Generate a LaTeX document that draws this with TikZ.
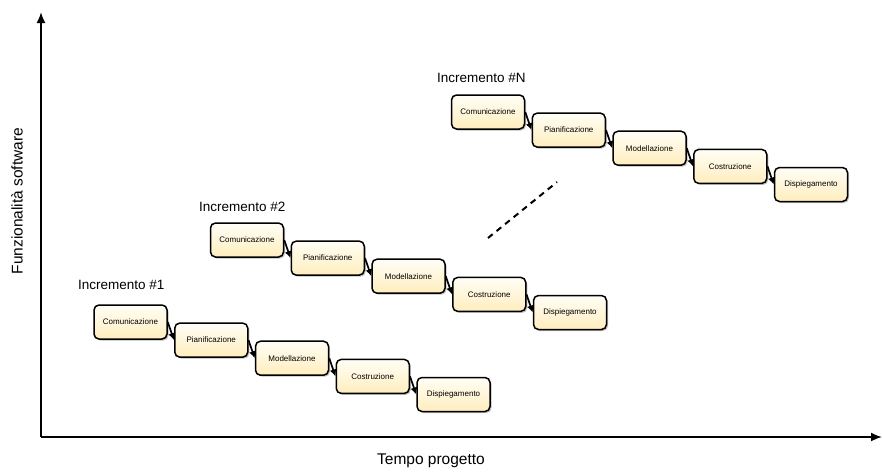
\documentclass[tikz,border=0pt]{standalone}
\usepackage{fontspec}
\setmainfont{Liberation Sans}
\usepackage{xcolor}
\usetikzlibrary{arrows.meta}
\usetikzlibrary{shadows}

\definecolor{fasetop}{HTML}{FFFEF6}
\definecolor{fasebot}{HTML}{FFEDBE}

\tikzset{
  fase/.style={draw=black, line width=1.5pt, rounded corners=5pt,
    top color=fasetop, bottom color=fasebot,
    minimum width=73pt, minimum height=34pt, inner sep=0pt,
    font=\fontsize{8}{9}\selectfont,
    drop shadow={shadow xshift=1.5pt, shadow yshift=-1.5pt, opacity=0.25, fill=black}},
  passo/.style={line width=1.7pt, -{Latex[length=7pt,width=7pt]}},
  titolo/.style={anchor=west, font=\fontsize{13.5}{15}\selectfont},
  asse/.style={line width=1.8pt, -{Latex[length=11pt,width=9pt]}}
}

\begin{document}
\begin{tikzpicture}[x=1pt,y=-1pt]
\useasboundingbox (0,0) rectangle (882,472);
		% assi
		\coordinate (O) at (41,437);
		\coordinate (Y) at (41,12);
		\coordinate (X) at (882,437);
		\draw[asse] (O) -- (Y);
		\draw[asse] (O) -- (X);
		\node[rotate=90, font=\fontsize{15.5}{17}\selectfont] (ylab) at (17,201) {Funzionalità software};
		\node[font=\fontsize{15.5}{17}\selectfont] (xlab) at (431,461) {Tempo progetto};
\begin{scope}[shift={(130.5,322)}]
		\node[titolo] (T1) at (-56,-37) {Incremento \#1};
		\node[fase] (C1) at (0,0) {Comunicazione};
		\node[fase] (P1) at (80.75,18.1) {Pianificazione};
		\node[fase] (M1) at (161.5,36.2) {Modellazione};
		\node[fase] (K1) at (242.25,54.4) {Costruzione};
		\node[fase] (D1) at (323,72.5) {Dispiegamento};
		\draw[passo] (C1.east) -- (P1.west);
		\draw[passo] (P1.east) -- (M1.west);
		\draw[passo] (M1.east) -- (K1.west);
		\draw[passo] (K1.east) -- (D1.west);
\end{scope}
\begin{scope}[shift={(247,240)}]
		\node[titolo] (T2) at (-51.5,-33) {Incremento \#2};
		\node[fase] (C2) at (0,0) {Comunicazione};
		\node[fase] (P2) at (80.75,18.1) {Pianificazione};
		\node[fase] (M2) at (161.5,36.2) {Modellazione};
		\node[fase] (K2) at (242.25,54.4) {Costruzione};
		\node[fase] (D2) at (323,72.5) {Dispiegamento};
		\draw[passo] (C2.east) -- (P2.west);
		\draw[passo] (P2.east) -- (M2.west);
		\draw[passo] (M2.east) -- (K2.west);
		\draw[passo] (K2.east) -- (D2.west);
\end{scope}
\begin{scope}[shift={(488,112)}]
		\node[titolo] (TN) at (-54.5,-34) {Incremento \#N};
		\node[fase] (CN) at (0,0) {Comunicazione};
		\node[fase] (PN) at (80.75,18.1) {Pianificazione};
		\node[fase] (MN) at (161.5,36.2) {Modellazione};
		\node[fase] (KN) at (242.25,54.4) {Costruzione};
		\node[fase] (DN) at (323,72.5) {Dispiegamento};
		\draw[passo] (CN.east) -- (PN.west);
		\draw[passo] (PN.east) -- (MN.west);
		\draw[passo] (MN.east) -- (KN.west);
		\draw[passo] (KN.east) -- (DN.west);
\end{scope}
		% puntini tra gli incrementi
		\coordinate (S) at (488,238);
		\coordinate (E) at (557,182);
		\draw[line width=2pt, dash pattern=on 6pt off 5pt] (S) -- (E);
\end{tikzpicture}
\end{document}
